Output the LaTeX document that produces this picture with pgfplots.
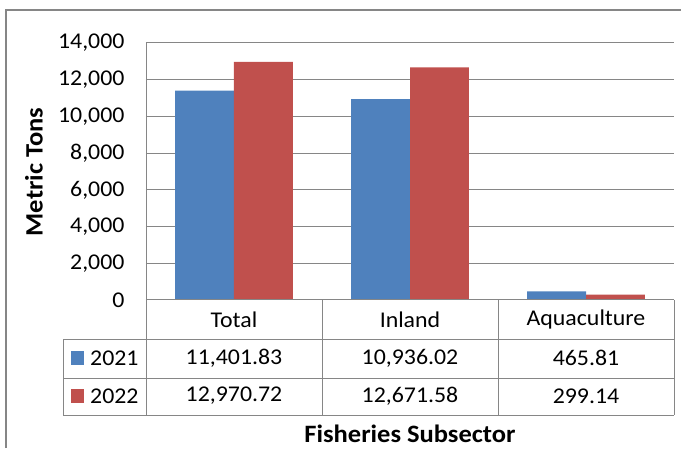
\documentclass[border=0pt]{standalone}
\usepackage{pgfplots}
\pgfplotsset{compat=1.18}
\usepackage{fontspec}
\setmainfont{Carlito}[FakeStretch=1.06]

\definecolor{s21}{HTML}{4F81BD}
\definecolor{s22}{HTML}{C0504D}
\definecolor{gridc}{HTML}{868686}

% values: Total, Inland, Aquaculture
\pgfplotstableread{
x y
0 11401.83
1 10936.02
2 465.81
}\yrA
\pgfplotstableread{
x y
0 12970.72
1 12671.58
2 299.14
}\yrB

\begin{document}
\begin{tikzpicture}[x=1pt,y=1pt,font=\fontsize{22.5}{26}\selectfont]
\useasboundingbox (0,0) rectangle (681,448);
% chart frame (left and top edges visible)
\draw[gridc,line width=1.6pt] (6,0) -- (6,438) -- (682,438);

\begin{axis}[
  at={(146pt,148pt)}, anchor=south west,
  scale only axis, width=528pt, height=257pt,
  xmin=-0.5, xmax=2.5, ymin=0, ymax=14000,
  ytick={0,2000,...,14000},
  scaled y ticks=false,
  xtick=\empty,
  ybar=0pt, bar width=58.8pt,
  axis line style={draw=none},
  ymajorgrids, grid style={gridc,line width=1pt},
  major tick style={draw=none},
  /pgf/number format/.cd, 1000 sep={,}, assume math mode=true,
  /pgfplots/.cd,
  yticklabel style={font=\fontsize{22.5}{26}\selectfont,xshift=-18pt},
  clip=false,
]
\addplot[fill=s21,draw=none] table[x=x,y=y] {\yrA};
\addplot[fill=s22,draw=none] table[x=x,y=y] {\yrB};
\end{axis}

% axis lines
\draw[gridc,line width=1pt] (146,405) -- (146,148);
% data table
\begin{scope}[gridc,line width=1pt]
\draw (146,148) -- (674,148);
\draw (63,109) -- (674,109);
\draw (63,70) -- (674,70);
\draw (63,33) -- (674,33);
\draw (63,109) -- (63,33);
\draw (146,148) -- (146,33);
\draw (322,148) -- (322,33);
\draw (498,148) -- (498,33);
\draw (674,148) -- (674,33);
\end{scope}
\node at (234,128) {Total};
\node at (410,128) {Inland};
\node at (586,128) {Aquaculture};
\fill[s21] (71,83) rectangle (84,97);
\fill[s22] (71,45) rectangle (84,59);
\node[anchor=west,inner sep=0pt] at (90,90) {2021};
\node[anchor=west,inner sep=0pt] at (90,52) {2022};
\node at (234,90) {11,401.83};
\node at (410,90) {10,936.02};
\node at (586,90) {465.81};
\node at (234,52) {12,970.72};
\node at (410,52) {12,671.58};
\node at (586,52) {299.14};

% axis titles
\node[font=\fontsize{25}{29}\selectfont\bfseries,anchor=base,inner sep=0pt] at (410,6) {Fisheries Subsector};
\node[font=\fontsize{25}{29}\selectfont\bfseries,rotate=90] at (34,276) {Metric Tons};
\end{tikzpicture}
\end{document}
